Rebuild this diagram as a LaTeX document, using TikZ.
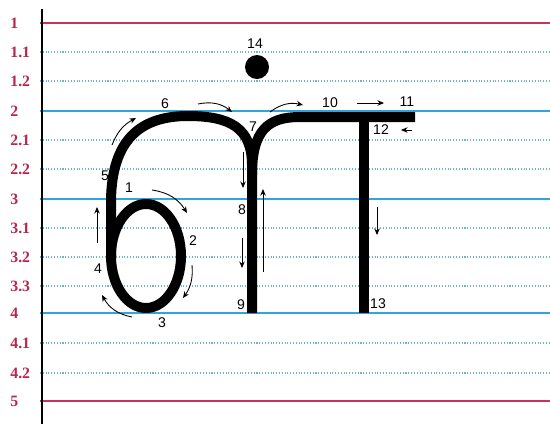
\documentclass[tikz,border=0pt]{standalone}
\usepackage{fontspec}
\setmainfont{Liberation Serif}
\newfontfamily\numfont{Liberation Sans}
\usetikzlibrary{arrows.meta}
\definecolor{cred}{HTML}{C8325E}
\definecolor{cblue}{HTML}{2EA6DA}
\definecolor{cdot}{HTML}{6FB4CC}
\definecolor{clab}{HTML}{B8264F}
\tikzset{
  redline/.style={draw=cred, line width=1.1pt},
  blueline/.style={draw=cblue, line width=1pt},
  dotline/.style={draw=cdot, line width=0.6pt, densely dotted},
  rowlab/.style={font=\bfseries\small, text=clab, anchor=west, inner sep=0pt},
  letter/.style={line width=0.2cm, line join=round},
  hint/.style={-{Stealth[length=1.3mm, width=1.1mm]}, line width=0.5pt},
  num/.style={font=\numfont\footnotesize, inner sep=0pt},
}

\begin{document}
\begin{tikzpicture}[x=0.02cm, y=-0.02cm]
  \useasboundingbox (0,0) rectangle (550,424);
  % ruled lines and their row names
  \foreach \y/\lab/\kind [count=\i] in {23/1/redline, 52/1.1/dotline, 81/1.2/dotline,
      111/2/blueline, 140/2.1/dotline, 169/2.2/dotline, 199/3/blueline,
      228/3.1/dotline, 257/3.2/dotline, 286/3.3/dotline, 313/4/blueline,
      343/4.1/dotline, 373/4.2/dotline, 401/5/redline} {
    \draw[\kind] (40,\y) -- (550,\y);
    \node[rowlab] (row\i) at (10,\y) {\lab};
  }
  \draw[line width=0.8pt] (42,9) -- (42,424);

  % the letter
  \draw[letter] (146,256) ellipse [x radius=35, y radius=52];
  \draw[letter] (111,256) -- (111,200) .. controls (112,140) and (140,116) .. (188,116)
    .. controls (230,116) and (252,128) .. (252,165) -- (252,313);
  \draw[letter] (252,175) .. controls (252,130) and (268,117) .. (300,117) -- (415,117);
  \draw[letter] (364,117) -- (364,313);
  \fill (257,67) circle [radius=12];

  % stroke order numbers
  \node[num] (n1) at (129,188) {1};
  \node[num] (n2) at (193,241) {2};
  \node[num] (n3) at (162,323) {3};
  \node[num] (n4) at (98,269) {4};
  \node[num] (n5) at (105,176) {5};
  \node[num] (n6) at (165,104) {6};
  \node[num] (n7) at (253,127) {7};
  \node[num] (n8) at (242,210) {8};
  \node[num] (n9) at (241,305) {9};
  \node[num] (n10) at (330,103) {10};
  \node[num] (n11) at (407,102) {11};
  \node[num] (n12) at (381,130) {12};
  \node[num] (n13) at (378,304) {13};
  \node[num] (n14) at (255,44) {14};

  % direction hints
  \draw[hint] (152,190) to[bend left=25] (187,213);
  \draw[hint] (192,265) to[bend left=20] (183,298);
  \draw[hint] (132,317) to[bend left=25] (102,295);
  \draw[hint] (97,243) -- (97,207);
  \draw[hint] (112,145) to[bend left=20] (136,118);
  \draw[hint] (198,104) to[bend left=25] (232,112);
  \draw[hint] (270,112) to[bend left=25] (303,105);
  \draw[hint] (357,103) -- (384,103);
  \draw[hint] (412,130) -- (401,130);
  \draw[hint] (243,152) -- (243,188);
  \draw[hint] (242,238) -- (242,268);
  \draw[hint] (263,272) -- (263,189);
  \draw[hint] (377,207) -- (377,235);
\end{tikzpicture}
\end{document}
